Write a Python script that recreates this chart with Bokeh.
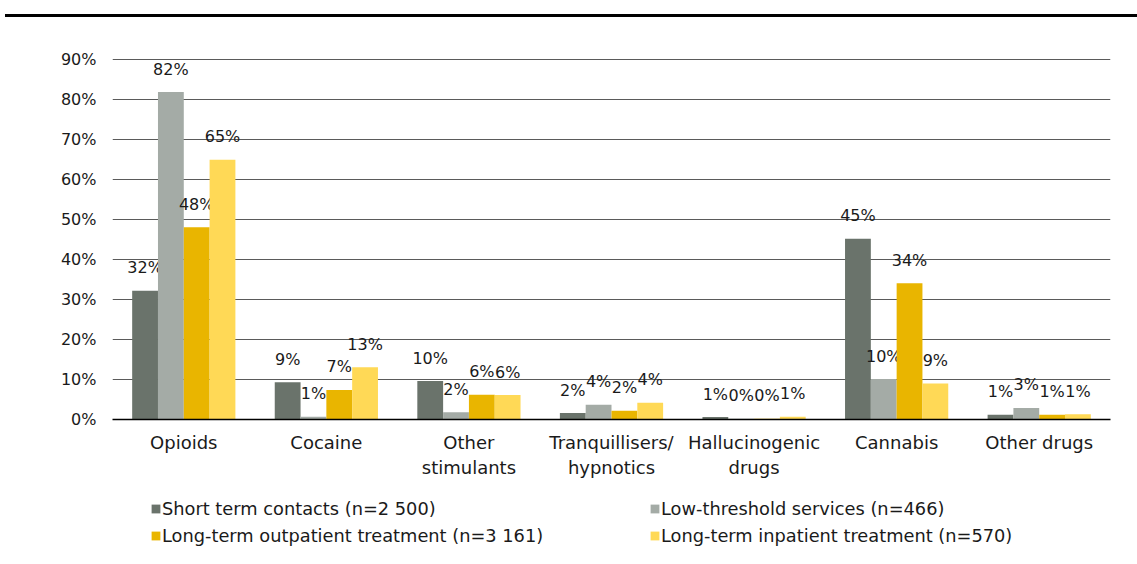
from bokeh.plotting import figure
from bokeh.models import (ColumnDataSource, FactorRange, FixedTicker, PrintfTickFormatter,
                          Legend, LegendItem, Div)
from bokeh.transform import dodge
from bokeh.layouts import column
from bokeh.core.properties import value
from bokeh.embed import file_html
from bokeh.resources import INLINE

categories = ["Opioids", "Cocaine", "Other\nstimulants", "Tranquillisers/\nhypnotics",
              "Hallucinogenic\ndrugs", "Cannabis", "Other drugs"]
short_term = [32.2, 9.3, 9.6, 1.6, 0.6, 45.2, 1.2]
low_threshold = [81.9, 0.7, 1.8, 3.7, 0.2, 10.1, 2.9]
outpatient = [48.1, 7.4, 6.2, 2.2, 0.2, 34.1, 1.2]
inpatient = [65.0, 13.1, 6.1, 4.2, 0.7, 9.0, 1.3]
series_names = ["Short term contacts (n=2 500)", "Low-threshold services (n=466)",
                "Long-term outpatient treatment (n=3 161)", "Long-term inpatient treatment (n=570)"]
colors = ["#6A736B", "#A4ABA6", "#E9B500", "#FFD956"]
y_ticks = [0, 10, 20, 30, 40, 50, 60, 70, 80, 90]

FONT = "DejaVu Sans"
TXT = "#1a1a1a"

# top rule
top = Div(text='<div style="margin-top:14px;margin-left:5px;height:3px;width:1132px;background:#000;"></div>',
          width=1137, height=20, margin=0)

p = figure(x_range=FactorRange(*categories), y_range=(0, 94.8), width=1137, height=460,
           output_backend="svg", toolbar_location=None,
           min_border_left=112, min_border_right=27, min_border_top=20, min_border_bottom=59)
p.outline_line_color = None
p.xgrid.grid_line_color = None
p.ygrid.grid_line_color = "#5a5a5a"
p.ygrid.grid_line_width = 1
p.ygrid.ticker = FixedTicker(ticks=y_ticks[1:])

p.yaxis.ticker = FixedTicker(ticks=y_ticks)
p.yaxis.formatter = PrintfTickFormatter(format="%d%%")
p.yaxis.axis_line_color = None
p.yaxis.major_tick_line_color = None
p.yaxis.major_tick_out = 0
p.yaxis.major_tick_in = 0
p.yaxis.minor_tick_line_color = None
p.yaxis.major_label_standoff = 16
p.yaxis.major_label_text_font = FONT
p.yaxis.major_label_text_font_size = "16px"
p.yaxis.major_label_text_color = TXT

p.xaxis.axis_line_color = "black"
p.xaxis.axis_line_width = 1.5
p.xaxis.major_tick_line_color = None
p.xaxis.major_tick_out = 0
p.xaxis.major_tick_in = 0
p.xaxis.minor_tick_line_color = None
p.xaxis.major_label_standoff = 12
p.xaxis.major_label_text_font = FONT
p.xaxis.major_label_text_font_size = "18px"
p.xaxis.major_label_text_color = TXT

series = [short_term, low_threshold, outpatient, inpatient]
bw = 0.181
offsets = [-1.5 * bw, -0.5 * bw, 0.5 * bw, 1.5 * bw]
for vals, col, off in zip(series, colors, offsets):
    src = ColumnDataSource(dict(cat=categories, v=vals,
                                lbl=[f"{int(v + 0.5)}%" for v in vals]))
    p.vbar(x=dodge("cat", off, range=p.x_range), top="v", width=bw, source=src,
           fill_color=col, line_color=None)
    p.text(x=dodge("cat", off, range=p.x_range), y="v", text="lbl", source=src,
           text_align="center", text_baseline="alphabetic", y_offset=-23,
           text_font=value(FONT), text_font_size="16px", text_color=TXT)

# legend panel
lg_fig = figure(width=1137, height=80, x_range=(0, 1), y_range=(0, 1),
                output_backend="svg", toolbar_location=None,
                min_border_left=112, min_border_right=27, min_border_top=0, min_border_bottom=0)
lg_fig.axis.visible = False
lg_fig.grid.visible = False
lg_fig.outline_line_color = None
dummies = []
for col in colors:
    # zero-height placeholder bars: only used to give the legend its swatches
    dummies.append(lg_fig.vbar(x=[0.5], top=[0], bottom=[0], width=0.01,
                               fill_color=col, line_color=None))

def make_legend(idx, x):
    lg = Legend(items=[LegendItem(label=series_names[i], renderers=[dummies[i]]) for i in idx],
                location=(x, 14), orientation="vertical", padding=0, margin=0,
                spacing=6, glyph_width=11, glyph_height=11, label_height=20,
                label_standoff=1, border_line_color=None, background_fill_alpha=0,
                label_text_font=FONT, label_text_font_size="17.8px", label_text_color=TXT)
    lg_fig.add_layout(lg, "center")

make_legend([0, 2], 38)
make_legend([1, 3], 537)

layout = column(top, p, lg_fig, spacing=0)
open("out.html", "w").write(file_html(layout, INLINE))
